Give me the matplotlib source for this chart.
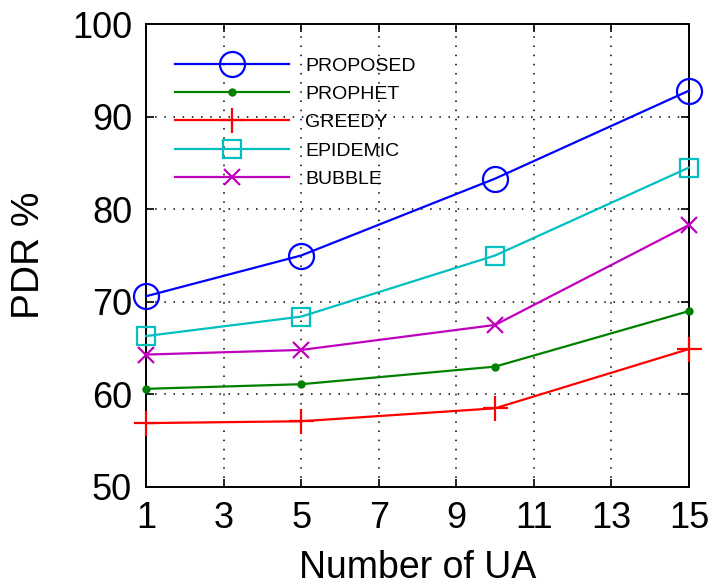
import matplotlib
matplotlib.use("Agg")
import matplotlib.pyplot as plt

plt.rcParams['font.family'] = ['Liberation Sans', 'DejaVu Sans']

ua = [1, 5, 10, 15]
proposed = [70.6, 75.0, 83.3, 92.8]
prophet = [60.6, 61.1, 63.0, 69.0]
greedy = [56.9, 57.1, 58.5, 64.9]
epidemic = [66.3, 68.4, 75.0, 84.5]
bubble = [64.3, 64.8, 67.5, 78.3]

xticks = [1, 3, 5, 7, 9, 11, 13, 15]
yticks = [50, 60, 70, 80, 90, 100]

fig = plt.figure(figsize=(7.14, 5.86), dpi=100)
ax = fig.add_axes([146 / 714, 99 / 586, 543 / 714, 463 / 586])

lw = 1.6
style = dict(lw=lw, clip_on=False, zorder=3)
ax.plot(ua, proposed, color='#0000ff', marker='o', ms=18, mfc='none', mew=1.6, label='PROPOSED', **style)
ax.plot(ua, prophet, color='#008000', marker='.', ms=10, label='PROPHET', **style)
ax.plot(ua, greedy, color='#ff0000', marker='+', ms=18, mew=1.6, label='GREEDY', **style)
ax.plot(ua, epidemic, color='#00bfbf', marker='s', ms=13, mfc='none', mew=1.6, label='EPIDEMIC', **style)
ax.plot(ua, bubble, color='#bf00bf', marker='x', ms=12, mew=1.6, label='BUBBLE', **style)

ax.set_xlim(1, 15)
ax.set_ylim(50, 100)
ax.set_xticks(xticks)
ax.set_yticks(yticks)
ax.tick_params(direction='in', top=True, right=True, length=6, width=1.2,
               labelsize=26, pad=10)
ax.grid(True, color='black', linestyle=(0, (1, 5)), linewidth=1.1)
for s in ax.spines.values():
    s.set_linewidth(1.4)

ax.set_xlabel('Number of UA', fontsize=27, labelpad=10)
ax.set_ylabel('PDR %', fontsize=28, labelpad=18)

leg = ax.legend(loc='upper left', frameon=False, fontsize=14, handlelength=5.9,
                handletextpad=0.8, labelspacing=0.55, bbox_to_anchor=(-0.008, 1.0),
                borderaxespad=0.6, borderpad=1.1)

fig.savefig('out.png', dpi=100)
